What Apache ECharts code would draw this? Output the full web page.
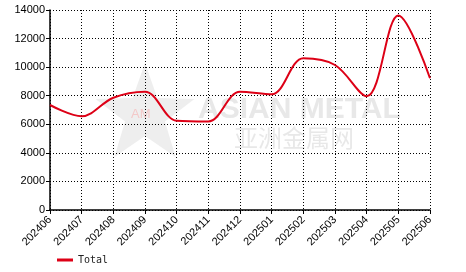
<!DOCTYPE html>
<html><head><meta charset="utf-8">
<script src="https://cdn.jsdelivr.net/npm/echarts@6/dist/echarts.min.js"></script>
<style>html,body{margin:0;padding:0;background:#fff}#c{width:466px;height:272px}</style>
</head><body><div id="c"></div>
<script>
const categories = ['202406','202407','202408','202409','202410','202411','202412','202501','202502','202503','202504','202505','202506'];
const totalValues = [7350, 6560, 7860, 8280, 6250, 6200, 8280, 8100, 10620, 10150, 7960, 13620, 9220];
const yTicks = {min: 0, max: 14000, interval: 2000};
const seriesName = 'Total';

function starPoints(cx, cy, R, r) {
  const pts = [];
  for (let i = 0; i < 10; i++) {
    const a = -Math.PI / 2 + i * Math.PI / 5;
    const rad = i % 2 === 0 ? R : r;
    pts.push([cx + rad * Math.cos(a), cy + rad * Math.sin(a)]);
  }
  return pts;
}

const chart = echarts.init(document.getElementById('c'));
chart.setOption({
  animation: false,
  backgroundColor: '#fff',
  grid: {left: 50, right: 36, top: 10, bottom: 62, containLabel: false},
  graphic: [
    {type: 'polygon', z: -1, shape: {points: starPoints(145, 115, 52, 21)}, style: {fill: 'rgba(200,200,200,0.3)'}},
    {type: 'text', z: -1, left: 131, top: 108, style: {text: 'AM', fill: 'rgba(255,130,130,0.35)', font: '13px Arial'}},
    {type: 'text', z: -1, left: 198, top: 95, style: {text: 'ASIAN METAL', fill: 'rgba(205,205,205,0.45)', font: 'bold 30px Arial'}},
    {type: 'text', z: -1, left: 234, top: 126, style: {text: '亚洲金属网', fill: 'rgba(205,205,205,0.45)', font: '24px "Noto Sans CJK SC"'}}
  ],
  legend: {
    data: [seriesName], left: 52, bottom: 2, icon: 'rect', itemWidth: 16, itemHeight: 3, itemGap: 5,
    textStyle: {fontFamily: '"DejaVu Sans Mono", monospace', fontSize: 10, color: '#222'}
  },
  xAxis: {
    type: 'category', data: categories, boundaryGap: false,
    axisLine: {lineStyle: {color: '#000', width: 1.5}},
    axisTick: {show: true, length: 4, lineStyle: {color: '#000'}},
    axisLabel: {rotate: 45, fontSize: 11, fontFamily: 'Arial', color: '#000', margin: 8, interval: 0},
    splitLine: {show: true, lineStyle: {type: [1, 2], color: '#000', width: 1}}
  },
  yAxis: {
    type: 'value', min: yTicks.min, max: yTicks.max, interval: yTicks.interval,
    axisLine: {show: true, lineStyle: {color: '#000', width: 1.5}},
    axisTick: {show: true, length: 4, lineStyle: {color: '#000'}},
    axisLabel: {fontSize: 11, fontFamily: 'Arial', color: '#000', margin: 5, formatter: v => String(v)},
    splitLine: {show: true, lineStyle: {type: [1, 2], color: '#000', width: 1}}
  },
  series: [{
    name: seriesName, type: 'line', data: totalValues, smooth: 0.35, showSymbol: false,
    lineStyle: {color: '#dd0016', width: 2}, itemStyle: {color: '#dd0016'}
  }]
});
</script></body></html>
